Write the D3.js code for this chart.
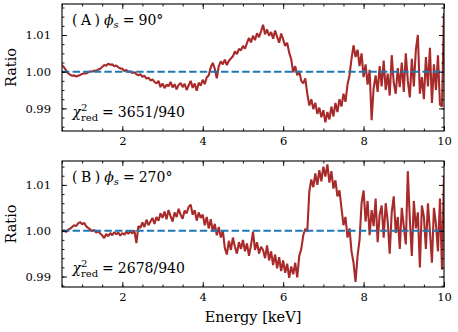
<!DOCTYPE html>
<html lang="en">
<head>
  <meta charset="UTF-8">
  <title>Ratio</title>
  <style>
    body { margin: 0; background: #fff; }
    svg text { font-family: "DejaVu Serif", serif; fill: #000; }
  </style>
</head>
<body>
<svg width="458" height="332"></svg>

<script src="https://cdn.jsdelivr.net/npm/d3@7"></script>
<script>
  // energy grid: first bin and step (keV)
  var eStart = 0.5, eStep = 0.05;

  // (A) phi_s = 90 deg
  var ratioA = [
    1.0018, 1.0012, 1.0004, 0.9996, 0.9992, 0.9989, 0.9990, 0.9987, 0.9989, 0.9991,
    0.9994, 0.9996, 0.9995, 0.9998, 1.0001, 1.0000, 1.0003, 1.0002, 1.0006, 1.0008,
    1.0013, 1.0018, 1.0016, 1.0022, 1.0019, 1.0020, 1.0015, 1.0017, 1.0012, 1.0009,
    1.0008, 1.0002, 1.0005, 0.9999, 1.0001, 0.9996, 0.9999, 0.9993, 0.9990, 0.9993,
    0.9986, 0.9989, 0.9981, 0.9984, 0.9976, 0.9979, 0.9972, 0.9968, 0.9975, 0.9958,
    0.9968, 0.9955, 0.9965, 0.9960, 0.9972, 0.9957, 0.9966, 0.9952, 0.9964, 0.9969,
    0.9958, 0.9967, 0.9950, 0.9963, 0.9975, 0.9956, 0.9968, 0.9948, 0.9970, 0.9962,
    0.9978, 0.9966, 0.9985, 0.9990, 1.0012, 1.0024, 1.0008, 0.9982, 1.0016, 1.0028,
    1.0020, 1.0033, 1.0018, 1.0030, 1.0036, 1.0042, 1.0055, 1.0048, 1.0062, 1.0058,
    1.0070, 1.0063, 1.0078, 1.0092, 1.0080, 1.0098, 1.0086, 1.0105, 1.0094, 1.0110,
    1.0128, 1.0102, 1.0115, 1.0098, 1.0108, 1.0090, 1.0112, 1.0095, 1.0079, 1.0104,
    1.0088, 1.0070, 1.0079, 1.0052, 1.0034, 0.9998, 1.0015, 0.9990, 1.0002, 0.9975,
    0.9968, 0.9982, 0.9940, 0.9908, 0.9925, 0.9898, 0.9915, 0.9885, 0.9902, 0.9876,
    0.9895, 0.9862, 0.9890, 0.9870, 0.9905, 0.9878, 0.9915, 0.9890, 0.9925, 0.9905,
    0.9940, 0.9918, 0.9965, 0.9990, 1.0035, 1.0072, 1.0040, 1.0060, 1.0015, 1.0050,
    0.9985, 1.0020, 0.9965, 1.0005, 0.9868, 0.9955, 0.9990, 0.9945, 1.0015, 0.9960,
    1.0030, 0.9950, 0.9995, 0.9935, 1.0045, 0.9970, 0.9940, 1.0010, 0.9958, 1.0025,
    0.9945, 1.0050, 0.9975, 0.9930, 1.0035, 0.9960, 1.0060, 1.0100, 0.9940, 0.9985,
    0.9925, 1.0040, 0.9960, 1.0065, 0.9915, 1.0020, 0.9950, 1.0045, 0.9910, 0.9905,
    1.0160
  ];

  // (B) phi_s = 270 deg
  var ratioB = [
    0.9998, 1.0001, 0.9997, 1.0002, 1.0004, 1.0008, 1.0012, 1.0010, 1.0016, 1.0019,
    1.0014, 1.0017, 1.0010, 1.0006, 1.0003, 0.9999, 1.0002, 0.9996, 0.9999, 0.9994,
    0.9990, 0.9984, 0.9993, 0.9988, 0.9995, 0.9990, 0.9997, 0.9992, 0.9996, 0.9989,
    0.9995, 0.9991, 0.9998, 0.9993, 0.9999, 0.9994, 1.0001, 0.9973, 1.0010, 1.0006,
    1.0018, 1.0008, 1.0024, 1.0012, 1.0020, 1.0028, 1.0015, 1.0030, 1.0022, 1.0038,
    1.0028, 1.0042, 1.0025, 1.0045, 1.0032, 1.0020, 1.0040, 1.0030, 1.0048, 1.0035,
    1.0026, 1.0044, 1.0038, 1.0052, 1.0057, 1.0035, 1.0045, 1.0022, 1.0040, 1.0028,
    1.0035, 1.0012, 1.0030, 1.0005, 1.0025, 0.9998, 1.0015, 0.9990, 1.0008, 0.9985,
    1.0000, 0.9962, 0.9948, 0.9978, 0.9958, 0.9985, 0.9965, 0.9950, 0.9975, 0.9960,
    0.9980, 0.9955, 0.9972, 0.9945, 0.9968, 0.9998, 0.9958, 0.9975, 0.9950, 0.9965,
    0.9958, 0.9940, 0.9968, 0.9935, 0.9955, 0.9925, 0.9948, 0.9918, 0.9942, 0.9912,
    0.9935, 0.9908, 0.9928, 0.9897, 0.9922, 0.9905, 0.9930, 0.9898, 0.9945, 0.9960,
    0.9990, 1.0004, 0.9998, 1.0085, 1.0112, 1.0095, 1.0125, 1.0100, 1.0132, 1.0108,
    1.0140, 1.0118, 1.0145, 1.0105, 1.0130, 1.0092, 1.0110, 1.0075, 1.0088, 1.0050,
    1.0012, 1.0030, 0.9985, 1.0005, 0.9955, 0.9930, 0.9888, 0.9945, 0.9980, 1.0060,
    1.0088, 1.0020, 1.0065, 0.9990, 1.0045, 1.0010, 1.0070, 0.9975, 1.0035, 1.0055,
    0.9985, 1.0060, 1.0020, 0.9950, 1.0040, 1.0075, 0.9995, 1.0030, 0.9960, 1.0050,
    1.0010, 0.9970, 1.0130, 1.0025, 0.9945, 1.0065, 1.0005, 1.0040, 0.9920, 1.0055,
    1.0030, 0.9960, 1.0060, 1.0000, 0.9930, 1.0050, 1.0015, 0.9955, 1.0070, 0.9915,
    1.0120
  ];

  var xTicks = [2, 4, 6, 8, 10];
  var yTicks = [0.99, 1.00, 1.01];
  var panelLabels = ['A', 'B'];
  var phiValues = ['90°', '270°'];
  var chiValues = ['3651/940', '2678/940'];

  var svg = d3.select('svg');
  var left = 62, right = 444;
  var panels = [
    {top: 4, bottom: 131, ydom: [0.98384, 1.01845], minor: 0.0025, data: ratioA},
    {top: 161, bottom: 287, ydom: [0.98771, 1.01522], minor: 0.002, data: ratioB}
  ];

  var x = d3.scaleLinear().domain([0.5, 10]).range([left, right]);
  var xMinor = d3.range(0.5, 10.01, 0.5);
  var red = '#a82a2a', blue = '#1f77b4';
  var fsTick = 11.5, fsAnn = 14, fsSub = 10, fsLab = 14.5;

  // one <text>, pieces placed one after another as tspans
  function mathLabel(g, x0, y0, pieces) {
    var t = g.append('text').style('font-size', fsAnn + 'px');
    var cx = x0, held = null;
    pieces.forEach(function (p) {
      if (p.sp) { cx += p.sp; return; }
      var px = held ? held.x : cx;
      var s = t.append('tspan').attr('x', px).attr('y', y0 + (p.dy || 0))
        .style('font-size', (p.fs || fsAnn) + 'px')
        .style('font-style', p.it ? 'italic' : 'normal')
        .text(p.t);
      var w = s.node().getComputedTextLength();
      if (p.hold) { held = {x: px, w: w}; }
      else if (held) { cx = px + Math.max(held.w, w); held = null; }
      else cx = px + w;
    });
  }

  panels.forEach(function (p, k) {
    var y = d3.scaleLinear().domain(p.ydom).range([p.bottom, p.top]);
    var h = p.bottom - p.top;
    var yMinor = d3.range(Math.ceil(p.ydom[0] / p.minor) * p.minor, p.ydom[1], p.minor);
    var g = svg.append('g');

    g.append('clipPath').attr('id', 'clip' + k).append('rect')
      .attr('x', left).attr('y', p.top).attr('width', right - left).attr('height', h);

    var line = d3.line()
      .x(function (d, i) { return x(eStart + i * eStep); })
      .y(function (d) { return y(d); });
    g.append('path').datum(p.data).attr('d', line)
      .attr('clip-path', 'url(#clip' + k + ')')
      .attr('fill', 'none').attr('stroke', red).attr('stroke-width', 2.1)
      .attr('stroke-linejoin', 'bevel');

    g.append('line').attr('x1', left).attr('x2', right).attr('y1', y(1)).attr('y2', y(1))
      .attr('stroke', blue).attr('stroke-width', 2).attr('stroke-dasharray', '7.4,3.2');

    // axes, ticks pointing inward
    function ax(axis, tx, ty) {
      var a = g.append('g').attr('transform', 'translate(' + tx + ',' + ty + ')').call(axis);
      a.select('.domain').remove();
      a.selectAll('line').attr('stroke', '#000').attr('stroke-width', 0.9);
      a.selectAll('text').style('font-size', fsTick + 'px').attr('fill', '#000');
      return a;
    }
    ax(d3.axisBottom(x).tickValues(xTicks).tickSize(-5).tickPadding(6).tickFormat(d3.format('d')), 0, p.bottom);
    ax(d3.axisBottom(x).tickValues(xMinor).tickSize(-2.5).tickFormat(''), 0, p.bottom);
    ax(d3.axisTop(x).tickValues(xTicks).tickSize(-5).tickFormat(''), 0, p.top);
    ax(d3.axisTop(x).tickValues(xMinor).tickSize(-2.5).tickFormat(''), 0, p.top);
    ax(d3.axisLeft(y).tickValues(yTicks).tickSize(-5).tickPadding(11).tickFormat(d3.format('.2f')), left, 0);
    ax(d3.axisLeft(y).tickValues(yMinor).tickSize(-2.5).tickFormat(''), left, 0);
    ax(d3.axisRight(y).tickValues(yTicks).tickSize(-5).tickFormat(''), right, 0);
    ax(d3.axisRight(y).tickValues(yMinor).tickSize(-2.5).tickFormat(''), right, 0);

    g.append('rect').attr('x', left).attr('y', p.top).attr('width', right - left).attr('height', h)
      .attr('fill', 'none').attr('stroke', '#000').attr('stroke-width', 1.1);

    g.append('text').attr('transform', 'translate(11,' + (p.top + h / 2) + ') rotate(-90)')
      .attr('text-anchor', 'middle').attr('dy', '0.35em')
      .style('font-size', fsLab + 'px').text('Ratio');

    mathLabel(g, 72, p.top + 20.7, [
      {t: '('}, {sp: 3.5}, {t: panelLabels[k]}, {sp: 3.5}, {t: ')'}, {sp: 4},
      {t: 'ϕ', it: true}, {t: 's', it: true, fs: fsSub, dy: 3}, {sp: 4},
      {t: '='}, {sp: 4}, {t: phiValues[k]}
    ]);
    mathLabel(g, 72.5, p.bottom - 14, [
      {t: 'χ', it: true}, {t: '2', fs: fsSub, dy: -6.5, hold: true}, {t: 'red', fs: fsSub, dy: 3.5},
      {sp: 4}, {t: '='}, {sp: 4}, {t: chiValues[k]}
    ]);
  });

  svg.append('text').attr('x', (left + right) / 2).attr('y', 322)
    .attr('text-anchor', 'middle').style('font-size', fsLab + 'px').text('Energy [keV]');
</script>
</body>
</html>
